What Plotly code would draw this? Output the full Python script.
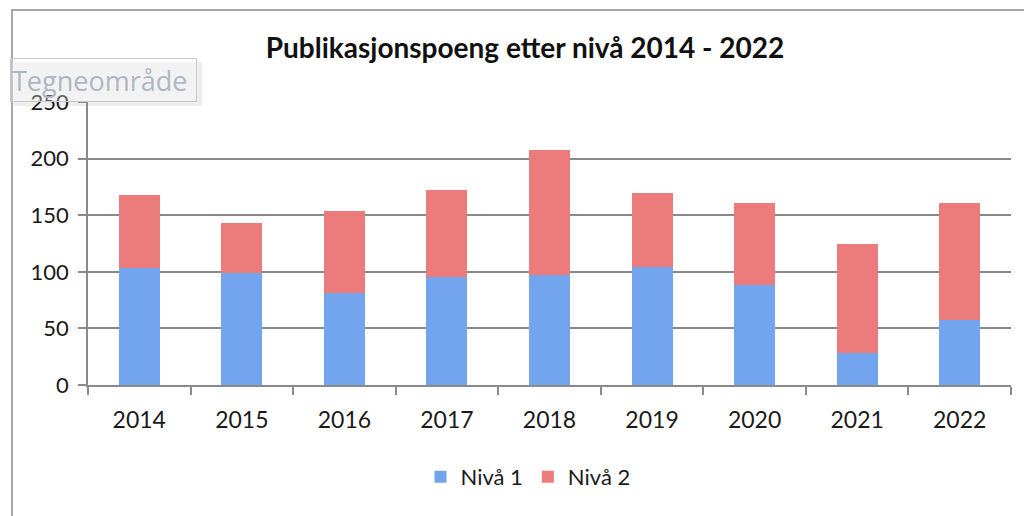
import plotly.graph_objects as go

years = ["2014", "2015", "2016", "2017", "2018", "2019", "2020", "2021", "2022"]
niva1 = [103, 99, 81, 95, 97, 104, 88, 28, 57]
niva2 = [65, 44, 73, 77, 111, 66, 73, 97, 104]
y_ticks = [0, 50, 100, 150, 200, 250]

FONT = "Lato"
GRID = "#8a8a8a"
OFF = 8  # default page body margin

# target plot area in page pixels: x 88..1011, y 102..385
fig = go.Figure()
fig.add_trace(go.Bar(x=years, y=niva1, name="Nivå 1",
                     marker=dict(color="#72a5ee", line=dict(width=0))))
fig.add_trace(go.Bar(x=years, y=niva2, name="Nivå 2",
                     marker=dict(color="#ec7c7c", line=dict(width=0))))

PW, PH = 923, 283

fig.update_layout(
    width=1032, height=516,
    barmode="stack", bargap=0.6,
    paper_bgcolor="white", plot_bgcolor="white",
    margin=dict(l=88 - OFF, r=1032 - 1011 + OFF, t=102 - OFF, b=516 - 385 + OFF),
    font=dict(family=FONT, color="#1a1a1a", size=22),
    title=dict(text="<b>Publikasjonspoeng etter nivå 2014 - 2022</b>",
               x=(525 - 88) / PW, xref="paper", xanchor="center",
               y=1 - (48 - OFF) / 516, yanchor="middle",
               font=dict(family=FONT, size=28, color="#111111")),
    legend=dict(orientation="h", x=(528 - 88) / PW, xanchor="center",
                y=-(477 - 385) / PH, yanchor="middle",
                font=dict(family=FONT, size=22, color="#1a1a1a"),
                itemwidth=30, traceorder="normal"),
    xaxis=dict(showgrid=False, showline=True, linecolor=GRID, linewidth=1.5,
               ticks="outside", ticklen=8, tickcolor=GRID, tickwidth=1.5,
               tickson="boundaries", tickfont=dict(size=23), ticklabelstandoff=14),
    yaxis=dict(range=[0, 250], tickvals=y_ticks, showgrid=True, gridcolor=GRID,
               gridwidth=1.5, showline=True, linecolor=GRID, linewidth=1.5,
               ticks="outside", ticklen=8, tickcolor=GRID, tickwidth=1.5,
               zeroline=False, tickfont=dict(size=22), ticklabelstandoff=5),
    shapes=[
        dict(type="rect", xref="paper", yref="paper",
             x0=(12 - 88) / PW, x1=1.2, y0=-0.6, y1=(385 - 10) / PH,
             line=dict(color="#8a8a8a", width=1.5), layer="below"),
        dict(type="rect", xref="paper", yref="paper",
             x0=(14 - 88) / PW, x1=(202 - 88) / PW,
             y0=(385 - 106) / PH, y1=(385 - 62) / PH,
             line=dict(width=0), fillcolor="rgba(0,0,0,0.07)", layer="below"),
    ],
    annotations=[
        dict(text="Tegneområde", xref="paper", yref="paper",
             x=(10 - 88) / PW, y=(385 - 80) / PH, xanchor="left", yanchor="middle",
             width=183, height=40, align="left",
             showarrow=False, font=dict(family="Open Sans", size=27, color="#aeb6c6"),
             bgcolor="rgba(255,255,255,0.3)", bordercolor="#c8c8c8", borderwidth=1,
             borderpad=1),
    ],
)

fig.write_html("out.html")
